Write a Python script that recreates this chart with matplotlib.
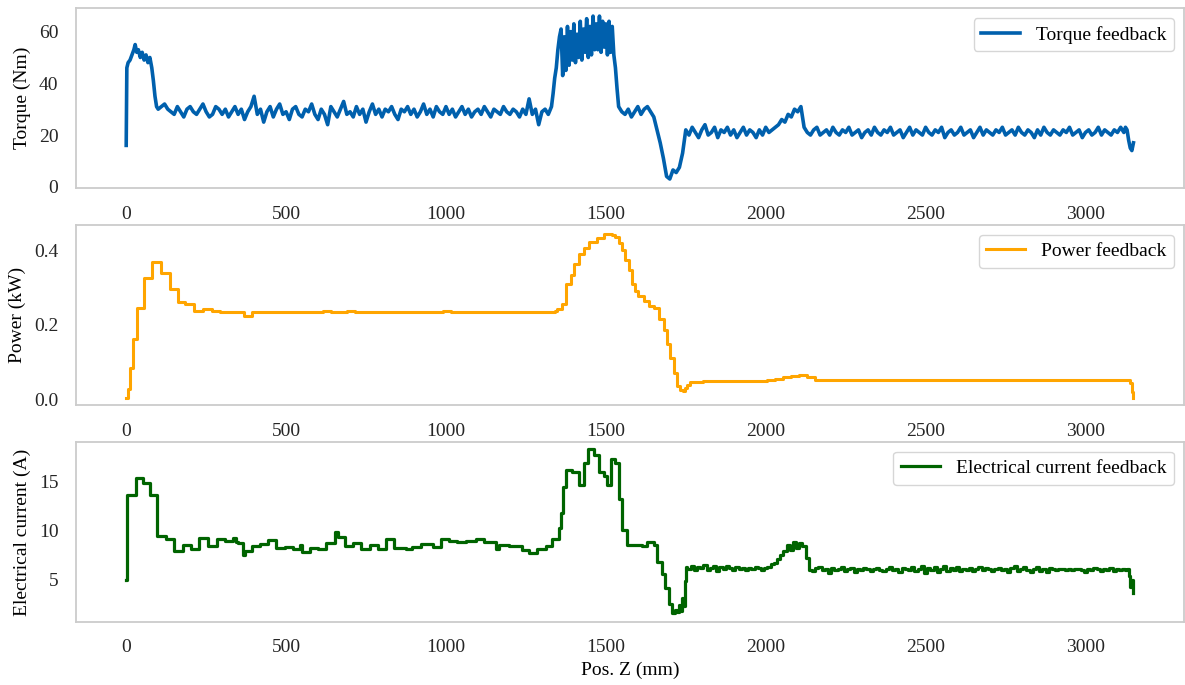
import numpy as np
import matplotlib.pyplot as plt

plt.rcParams['font.family'] = ['Liberation Serif', 'DejaVu Serif']

# torque feedback (Nm) vs position Z (mm)
torque_start_z = [0, 2, 6, 12, 18, 24, 28, 33, 38, 44, 50, 56, 62, 68, 74, 80, 85, 90, 95]
torque_start = [16, 46, 48, 49, 51, 53, 55, 52, 53, 50, 52, 49, 51, 48, 50, 46, 41, 35, 31]
# 100 .. 1330 every 10 mm
torque_flat = [30, 31, 32, 30, 29, 28, 31, 29, 27, 30,
               31, 29, 28, 30, 32, 29, 27, 28, 31, 30,
               28, 30, 27, 29, 31, 28, 30, 26, 29, 31,
               35, 28, 30, 25, 29, 31, 27, 30, 32, 28,
               29, 26, 30, 31, 28, 27, 30, 29, 32, 28,
               26, 30, 28, 24, 31, 29, 27, 30, 33, 28,
               29, 27, 31, 28, 30, 25, 29, 32, 28, 30,
               27, 30, 29, 31, 28, 26, 30, 29, 31, 28,
               30, 27, 29, 32, 28, 30, 27, 31, 29, 28,
               31, 28, 30, 27, 29, 31, 28, 30, 27, 29,
               30, 28, 31, 29, 27, 30, 29, 28, 31, 29,
               28, 30, 29, 27, 30, 28, 34, 28, 30, 24,
               29, 30, 28, 31]
# 1335 .. 1535 every 5 mm
torque_peak = [36, 42, 46, 53, 58, 61, 43, 58, 45, 62,
               47, 60, 49, 63, 48, 59, 50, 64, 49, 61,
               52, 65, 50, 62, 51, 66, 53, 63, 53, 66,
               52, 64, 54, 63, 51, 64, 52, 62, 51, 46,
               38]
# 1540 .. 2110 every 10 mm
torque_mid = [31, 29, 28, 30, 27, 29, 31, 28, 30, 31,
              29, 27, 22, 17, 11, 4, 3, 6.5, 5.5, 7.5,
              13, 22, 20, 23, 21, 19, 22, 24, 20, 21,
              23, 19, 22, 21, 23, 20, 22, 19, 21, 23,
              20, 22, 21, 19, 22, 20, 23, 21, 22, 23,
              24, 26, 25, 28, 27, 30, 29, 31]
# 2120 .. 3120 every 10 mm
torque_tail = [23, 21, 20, 22, 23, 20, 21, 22, 20, 23,
               21, 20, 22, 21, 23, 20, 21, 22, 19, 21,
               22, 20, 23, 21, 20, 22, 21, 23, 20, 21,
               22, 19, 21, 23, 20, 22, 21, 20, 23, 21,
               20, 22, 21, 23, 19, 21, 22, 20, 21, 23,
               20, 21, 22, 19, 21, 23, 20, 22, 21, 20,
               22, 21, 23, 20, 21, 22, 20, 23, 21, 20,
               22, 21, 19, 22, 20, 23, 21, 20, 22, 21,
               20, 22, 21, 23, 20, 21, 22, 19, 21, 22,
               20, 21, 23, 20, 22, 21, 20, 22, 21, 23,
               21]
torque_end_z = [3125, 3130, 3135, 3140, 3145, 3150]
torque_end = [23, 22, 18, 15, 14, 17]

# power feedback (kW), step values
power_early_z = [0, 5, 12, 22, 35, 57, 82, 109, 137, 161, 184, 213, 241]
power_early = [0.004, 0.028, 0.085, 0.163, 0.246, 0.324, 0.367, 0.338, 0.297, 0.262, 0.257, 0.238, 0.243]
# 267 .. 1317 every 25 mm
power_flat = [0.236, 0.235, 0.235, 0.234, 0.224, 0.235, 0.235, 0.234, 0.235, 0.234,
              0.234, 0.235, 0.233, 0.234, 0.236, 0.233, 0.234, 0.236, 0.234, 0.235,
              0.233, 0.234, 0.235, 0.234, 0.233, 0.234, 0.235, 0.233, 0.234, 0.236,
              0.234, 0.235, 0.233, 0.234, 0.233, 0.235, 0.234, 0.233, 0.234, 0.235,
              0.233, 0.234, 0.235]
power_peak_z = [1342, 1348, 1363, 1374, 1390, 1400, 1416, 1431, 1447, 1473, 1494, 1520, 1528, 1540,
                1550, 1561, 1571, 1582, 1592, 1602, 1618, 1634, 1650, 1665, 1681, 1691, 1702, 1712,
                1722, 1733, 1740, 1748, 1755, 1762, 1770]
power_peak = [0.238, 0.243, 0.257, 0.31, 0.332, 0.364, 0.39, 0.405, 0.422, 0.432, 0.443, 0.44, 0.436, 0.418,
              0.40, 0.373, 0.346, 0.31, 0.29, 0.278, 0.265, 0.25, 0.245, 0.216, 0.185, 0.148, 0.11, 0.071,
              0.035, 0.025, 0.022, 0.03, 0.04, 0.046, 0.048]
# 1780 .. 3130 every 25 mm
power_low = [0.048, 0.049, 0.049, 0.050, 0.049, 0.049, 0.050, 0.049, 0.050, 0.051,
             0.054, 0.060, 0.064, 0.065, 0.059, 0.053,
             0.052, 0.051, 0.052, 0.052, 0.051, 0.052, 0.053, 0.052, 0.051, 0.052,
             0.052, 0.051, 0.052, 0.053, 0.052, 0.051, 0.052, 0.052, 0.053, 0.052,
             0.051, 0.052, 0.052, 0.051, 0.052, 0.053, 0.052, 0.051, 0.052, 0.052,
             0.051, 0.052, 0.052, 0.051, 0.052, 0.051, 0.052, 0.051, 0.052]
power_end_z = [3140, 3145, 3150]
power_end = [0.045, 0.02, 0.005]

# electrical current feedback (A), step values
current_early_z = [0, 1, 3, 31, 52, 73, 97, 123, 150, 177, 203, 229, 257, 283, 309, 335, 342, 350, 364, 371,
                   392, 418, 443, 470, 496, 522, 545, 550, 574, 599, 626, 652, 662, 683, 709, 735, 761, 787,
                   813, 839, 875, 895, 922, 958, 984, 1010, 1036, 1062, 1094, 1119, 1156, 1166, 1197, 1238,
                   1260, 1285, 1312, 1333, 1354, 1360, 1366, 1374, 1395, 1416, 1431, 1444, 1462, 1478, 1494,
                   1504, 1515, 1530, 1540, 1550, 1566, 1592, 1613, 1629, 1650, 1660, 1676, 1686, 1697, 1707,
                   1717, 1722, 1728, 1733, 1738, 1742, 1746, 1750]
current_early = [4.9, 10.1, 13.7, 15.4, 14.9, 13.7, 9.5, 9.1, 7.9, 8.5, 8.1, 9.3, 8.4, 9.2, 8.9, 9.3, 8.8, 8.7, 7.5, 7.9,
                 8.4, 8.6, 9.0, 8.2, 8.3, 8.1, 8.5, 7.8, 8.2, 8.1, 8.7, 9.9, 9.4, 8.4, 8.7, 8.1, 8.5, 8.1,
                 9.2, 8.2, 8.1, 8.3, 8.6, 8.3, 9.1, 8.9, 8.8, 8.9, 9.1, 8.8, 8.1, 8.5, 8.4, 8.0,
                 7.7, 8.1, 8.4, 9.1, 10.3, 11.8, 14.5, 16.2, 16.0, 14.7, 16.9, 18.4, 17.8, 16.0, 15.6,
                 14.7, 17.3, 16.9, 13.2, 10.1, 8.5, 8.5, 8.4, 8.8, 8.5, 6.8, 5.6, 4.1, 2.5, 1.6,
                 1.9, 1.7, 2.4, 1.8, 3.1, 2.3, 4.8, 6.3]
# 1755 .. 3125 every 10 mm
current_late = [6.1, 6.4, 6.0, 6.3, 6.2, 6.5, 6.0, 6.2, 6.4, 5.9,
                6.3, 6.1, 6.4, 6.2, 6.0, 6.3, 6.1, 6.2, 6.0, 6.2,
                6.1, 6.3, 6.2, 6.0, 6.2, 6.3, 6.6, 6.7,
                7.1, 7.5, 7.9, 8.5, 8.0, 8.8, 8.2, 8.7, 8.4,
                7.2, 6.0,
                5.9, 6.2, 6.3, 6.0, 6.1, 5.7, 6.2, 6.0, 6.1, 6.3,
                5.9, 6.1, 6.2, 5.8, 6.1, 6.0, 6.2, 6.1, 5.9, 6.1,
                6.2, 6.0, 5.9, 6.1, 6.3, 6.0, 6.1, 5.8, 6.2, 6.1,
                6.0, 6.3, 5.9, 6.1, 6.4, 5.7, 6.2, 6.0, 6.3, 5.8,
                6.1, 6.4, 5.9, 6.2, 6.0, 6.3, 5.9, 6.1, 6.0, 6.2,
                5.9, 6.1, 6.3, 6.0, 6.2, 6.1, 5.9, 6.1, 6.2, 6.0,
                6.1, 5.8, 6.2, 6.4, 5.9, 6.1, 6.3, 6.0, 5.8, 6.1,
                6.3, 5.9, 6.1, 5.8, 6.2, 6.1, 6.0, 6.1, 6.1, 6.0,
                6.1, 6.0, 6.1, 6.1, 6.0, 5.8, 6.1, 6.0, 6.2, 6.1,
                5.9, 6.1, 6.0, 6.2, 5.9, 6.1, 6.0, 6.1, 6.0]
current_end_z = [3130, 3135, 3140, 3145, 3150]
current_end = [6.1, 5.4, 4.2, 5.0, 3.6]

torque_z = np.concatenate([torque_start_z,
                           100 + 10 * np.arange(len(torque_flat)),
                           1335 + 5 * np.arange(len(torque_peak)),
                           1540 + 10 * np.arange(len(torque_mid)),
                           2120 + 10 * np.arange(len(torque_tail)),
                           torque_end_z])
torque = np.concatenate([torque_start, torque_flat, torque_peak, torque_mid, torque_tail, torque_end])

power_z = np.concatenate([power_early_z, 267 + 25 * np.arange(len(power_flat)),
                          power_peak_z, 1780 + 25 * np.arange(len(power_low)), power_end_z])
power = np.concatenate([power_early, power_flat, power_peak, power_low, power_end])

current_z = np.concatenate([current_early_z, 1755 + 10 * np.arange(len(current_late)), current_end_z])
current = np.concatenate([current_early, current_late, current_end])

fig, axes = plt.subplots(3, 1, figsize=(11.85, 6.85), dpi=100)
plt.subplots_adjust(left=0.064, right=0.999, top=0.988, bottom=0.092, hspace=0.204)

axes[0].plot(torque_z, torque, color='#0060ad', lw=2.6, label='Torque feedback')
axes[1].plot(power_z, power, color='orange', lw=2.2, drawstyle='steps-post', label='Power feedback')
axes[2].plot(current_z, current, color='darkgreen', lw=2.3, drawstyle='steps-post',
             label='Electrical current feedback')

axes[0].set_ylabel('Torque (Nm)', fontsize=14)
axes[1].set_ylabel('Power (kW)', fontsize=14)
axes[2].set_ylabel('Electrical current (A)', fontsize=14)
axes[2].set_xlabel('Pos. Z (mm)', fontsize=14)

axes[0].set_ylim(-0.6, 69.05)
axes[0].set_yticks([0, 20, 40, 60])
axes[1].set_ylim(-0.015, 0.467)
axes[1].set_yticks([0.0, 0.2, 0.4])
axes[1].set_yticklabels(['0.0', '0.2', '0.4'])
axes[2].set_ylim(0.65, 19.1)
axes[2].set_yticks([5, 10, 15])

for ax in axes:
    ax.set_xlim(-157.5, 3307.5)
    ax.set_xticks([0, 500, 1000, 1500, 2000, 2500, 3000])
    ax.tick_params(axis='both', length=0, pad=12.5, labelsize=14, colors='#262626')
    for side in ax.spines.values():
        side.set_color('#cccccc')
        side.set_linewidth(1.3)
    ax.yaxis.labelpad = 6
    ax.legend(loc='upper right', fontsize=14, edgecolor='#cccccc', fancybox=True)

fig.savefig('out.png', dpi=100)
